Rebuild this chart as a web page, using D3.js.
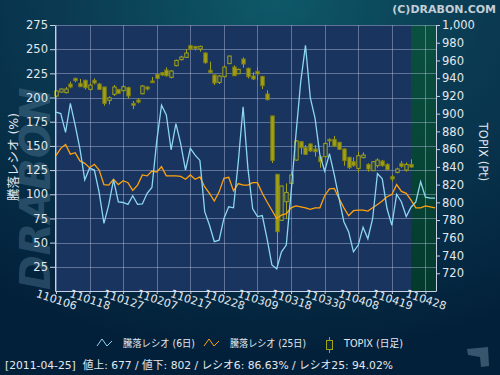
<!DOCTYPE html>
<html>
<head>
<meta charset="utf-8">
<script src="https://cdn.jsdelivr.net/npm/d3@7"></script>
<style>
  html, body { margin: 0; padding: 0; background: #05243a; }
  svg { display: block; }
  text { font-family: "DejaVu Sans", "Noto Sans CJK JP", sans-serif; }
</style>
</head>
<body>
<div id="chart"></div>
<script>
// ============================================================
//  Data
// ============================================================

// x tick labels (YYMMDD), one every 7 trading days
const xTickLabels = ['110106', '110118', '110127', '110207', '110217', '110228',
  '110309', '110318', '110330', '110408', '110419', '110428'];
const xTickDays = [0, 7, 14, 21, 28, 35, 42, 49, 56, 63, 70, 77];

const leftTicks = [25, 50, 75, 100, 125, 150, 175, 200, 225, 250, 275];
const rightTicks = [720, 740, 760, 780, 800, 820, 840, 860, 880, 900, 920, 940, 960, 980, 1000];

// TOPIX daily candles, 2011-01-06 .. 2011-04-25
const openP = [919.9, 924.4, 923.7, 933.4, 939.8, 934.2, 937.6, 927.4, 937.6, 933.4,
  930.1, 915.0, 921.8, 927.4, 925.9, 929.3, 911.6, 915.4, 922.5, 930.1,
  936.8, 944.4, 946.2, 949.2, 941.0, 954.1, 960.9, 963.5, 976.7, 975.9,
  972.9, 968.4, 948.9, 943.6, 935.3, 941.7, 956.4, 952.6, 945.1, 961.6,
  951.1, 942.5, 947.7, 942.1, 922.2, 897.4, 831.6, 779.7, 800.7, 821.4,
  847.7, 868.4, 861.6, 865.8, 860.1, 851.5, 851.5, 871.0, 871.0, 867.6,
  860.1, 850.7, 845.8, 838.3, 850.4, 842.8, 835.7, 841.3, 846.6, 842.8,
  828.9, 833.8, 843.6, 836.4, 842.8];
const highP = [926.7, 928.6, 930.1, 936.1, 940.6, 939.1, 938.3, 934.2, 939.8, 934.6,
  930.1, 919.5, 932.3, 927.4, 932.3, 930.4, 914.3, 917.3, 932.3, 930.8,
  941.3, 945.1, 946.6, 952.2, 949.2, 960.9, 965.4, 972.9, 977.4, 976.3,
  976.7, 969.2, 958.6, 944.4, 943.6, 954.1, 965.4, 954.5, 950.7, 963.5,
  951.9, 946.6, 952.6, 942.5, 926.3, 897.7, 831.6, 818.8, 821.4, 834.6,
  870.3, 869.2, 864.6, 866.5, 864.6, 853.4, 867.6, 872.2, 874.8, 868.4,
  860.9, 851.5, 850.7, 857.1, 856.4, 844.0, 846.6, 849.6, 847.7, 844.0,
  830.8, 839.1, 846.6, 845.1, 848.5];
const lowP = [918.8, 923.7, 922.9, 928.6, 935.3, 930.1, 927.4, 926.3, 933.1, 926.7,
  909.0, 910.5, 919.9, 922.5, 924.8, 917.3, 905.2, 911.6, 921.8, 926.3,
  934.6, 939.1, 942.8, 941.7, 939.8, 953.4, 960.1, 963.2, 971.8, 971.4,
  969.9, 956.4, 945.9, 932.3, 933.4, 941.0, 956.0, 942.5, 944.4, 951.9,
  939.8, 938.0, 937.6, 927.8, 915.0, 844.3, 725.5, 778.9, 781.2, 819.5,
  846.6, 854.1, 853.4, 857.1, 851.5, 839.1, 850.7, 862.8, 862.4, 859.0,
  841.3, 837.6, 840.2, 833.8, 849.6, 834.6, 835.3, 839.1, 840.2, 835.7,
  823.3, 832.7, 839.1, 834.6, 839.1];
const closeP = [925.6, 927.8, 927.8, 930.1, 937.2, 930.4, 929.3, 932.3, 934.6, 927.4,
  911.6, 918.0, 930.1, 922.9, 930.4, 919.9, 909.4, 913.1, 931.2, 927.8,
  935.0, 939.8, 943.6, 942.8, 948.1, 960.1, 963.9, 968.4, 972.9, 973.7,
  975.9, 957.5, 946.6, 934.6, 942.5, 952.6, 965.0, 942.8, 950.0, 956.0,
  941.7, 939.1, 944.7, 931.6, 915.8, 847.3, 766.9, 818.4, 811.2, 830.8,
  869.2, 861.6, 854.1, 857.9, 857.1, 845.8, 866.5, 869.2, 863.5, 859.8,
  847.0, 839.1, 841.3, 852.6, 853.4, 837.6, 845.8, 847.7, 841.3, 836.8,
  826.3, 837.6, 840.6, 842.8, 839.8];

// advance/decline ratio (%), 6-day and 25-day
const ratio6 = [185, 183.5, 164, 194, 171.5, 147, 115, 127, 125, 102,
  70, 89, 115, 92, 91.5, 89.5, 98.5, 89.5, 90, 101,
  107, 155, 192, 182, 146, 173, 152, 125, 147.5, 140.5,
  135, 82, 68, 51, 52.5, 75, 87, 86, 133.5, 190.5,
  127, 85, 77, 78, 54, 27, 23, 40.5, 47.5, 102,
  161, 216, 254, 200, 178.5, 140.5, 124, 142, 120, 95.7,
  71.6, 61, 40.5, 47.5, 66, 54, 75, 121.5, 116, 85,
  68, 100, 92, 77, 86.6, 92, 113, 97, 96, 96];
const ratio25 = [140, 147.5, 151.5, 141.5, 143, 134.5, 132, 127.5, 131, 125,
  110, 109.5, 115.5, 110, 114, 112, 104, 109.5, 120, 119,
  124, 123, 128.5, 119, 119, 119, 118.5, 115.5, 120, 115.5,
  118, 107.5, 101, 93, 102.5, 116.5, 117.5, 103.5, 111, 109.5,
  109.5, 112, 112, 101, 92, 83.5, 75, 78.5, 80, 86,
  88, 87, 86, 84.5, 86, 86, 98.5, 105.5, 106, 95.7,
  86, 77.8, 83, 83.6, 83.6, 82.6, 86, 89.5, 93, 97.4,
  99.8, 110, 103, 101, 94, 86, 86, 88, 87, 86];

const lastDay = 74; // 2011-04-25, start of the shaded zone
const legendLabels = ['騰落レシオ (6日)', '騰落レシオ (25日)', 'TOPIX (日足)'];
const footerText = '[2011-04-25]  値上: 677 / 値下: 802 / レシオ6: 86.63% / レシオ25: 94.02%';

// ============================================================
//  Layout
// ============================================================

const W = 500, H = 375;
const plot = { left: 55, right: 436, top: 25, bottom: 291 };

const svg = d3.select('#chart').append('svg').attr('width', W).attr('height', H);

const defs = svg.append('defs');
const bg = defs.append('radialGradient').attr('id', 'bg')
  .attr('cx', '55%').attr('cy', '0%').attr('r', '95%');
bg.append('stop').attr('offset', '0%').attr('stop-color', '#0e5969');
bg.append('stop').attr('offset', '45%').attr('stop-color', '#0a3a52');
bg.append('stop').attr('offset', '100%').attr('stop-color', '#03203a');

const zone = defs.append('linearGradient').attr('id', 'zone')
  .attr('x1', 0).attr('y1', 0).attr('x2', 0).attr('y2', 1);
zone.append('stop').attr('offset', '0%').attr('stop-color', '#0a5040');
zone.append('stop').attr('offset', '100%').attr('stop-color', '#043a2e');

svg.append('rect').attr('width', W).attr('height', H).attr('fill', 'url(#bg)');

// watermark
svg.append('text')
  .attr('transform', 'translate(50,290) rotate(-90)')
  .attr('font-size', 42).attr('font-weight', 'bold').attr('font-style', 'italic')
  .attr('fill', 'rgba(110,150,180,0.32)')
  .text('DRABON');

svg.append('text')
  .attr('x', 496).attr('y', 13).attr('text-anchor', 'end')
  .attr('font-size', 11).attr('font-weight', 'bold').attr('fill', '#c3ced6')
  .text('(C)DRABON.COM');

// ============================================================
//  Scales
// ============================================================

const x = d3.scaleLinear().domain([-0.2, 79.2]).range([plot.left, plot.right]);
const yL = d3.scaleLinear().domain([0, 275]).range([plot.bottom, plot.top]);
const yR = d3.scaleLinear().domain([700, 1000]).range([plot.bottom, plot.top]);

svg.append('rect')
  .attr('x', plot.left).attr('y', plot.top)
  .attr('width', plot.right - plot.left).attr('height', plot.bottom - plot.top)
  .attr('fill', '#1a3460');

svg.append('rect')
  .attr('x', x(lastDay)).attr('y', plot.top)
  .attr('width', plot.right - x(lastDay)).attr('height', plot.bottom - plot.top)
  .attr('fill', 'url(#zone)');

// grid
const grid = svg.append('g').attr('stroke', 'rgba(190,200,228,0.42)').attr('stroke-width', 1);
grid.selectAll('.h').data(leftTicks).join('line')
  .attr('x1', plot.left).attr('x2', plot.right)
  .attr('y1', d => Math.round(yL(d)) + 0.5).attr('y2', d => Math.round(yL(d)) + 0.5);
grid.selectAll('.v').data(xTickDays).join('line')
  .attr('x1', d => Math.round(x(d)) + 0.5).attr('x2', d => Math.round(x(d)) + 0.5)
  .attr('y1', plot.top).attr('y2', plot.bottom);

// ============================================================
//  Marks
// ============================================================

const olive = '#a2a218';
const candles = openP.map((o, i) => ({ i, o, h: highP[i], l: lowP[i], c: closeP[i] }));
const bw = 3.4;
const cg = svg.append('g');
cg.selectAll('.wick').data(candles).join('line')
  .attr('x1', d => Math.round(x(d.i)) + 0.5).attr('x2', d => Math.round(x(d.i)) + 0.5)
  .attr('y1', d => yR(d.h)).attr('y2', d => yR(d.l))
  .attr('stroke', olive).attr('stroke-width', 1);
cg.selectAll('.body').data(candles).join('rect')
  .attr('x', d => Math.round(x(d.i)) + 0.5 - bw / 2)
  .attr('y', d => yR(Math.max(d.o, d.c)))
  .attr('width', bw)
  .attr('height', d => Math.max(1, Math.abs(yR(d.o) - yR(d.c))))
  .attr('fill', d => d.c >= d.o ? '#1f3a5c' : olive)
  .attr('stroke', d => d.c >= d.o ? olive : '#808010')
  .attr('stroke-width', 1);

const line = v => d3.line().x((d, i) => x(i)).y(d => yL(d))(v);
svg.append('path').attr('d', line(ratio25))
  .attr('fill', 'none').attr('stroke', '#ffa20a').attr('stroke-width', 1.3);
svg.append('path').attr('d', line(ratio6))
  .attr('fill', 'none').attr('stroke', '#8cd6f0').attr('stroke-width', 1.3);

// ============================================================
//  Axes
// ============================================================

const axisColor = '#c8d0e6';
function styleAxis(g) {
  g.select('.domain').attr('stroke', axisColor);
  g.selectAll('.tick line').attr('stroke', axisColor);
  g.selectAll('.tick text').attr('fill', '#e2e8ee').attr('font-size', 11.5)
    .attr('font-family', '"DejaVu Sans", sans-serif');
}

svg.append('g').attr('transform', `translate(${plot.left},0)`)
  .call(d3.axisLeft(yL).tickValues(leftTicks).tickSize(5).tickSizeOuter(0).tickPadding(2))
  .call(styleAxis);

svg.append('g').attr('transform', `translate(${plot.right},0)`)
  .call(d3.axisRight(yR).tickValues(rightTicks).tickSize(4).tickSizeOuter(0).tickPadding(2)
    .tickFormat(d3.format(',')))
  .call(styleAxis);

const xa = svg.append('g').attr('transform', `translate(0,${plot.bottom})`)
  .call(d3.axisBottom(x).tickValues(xTickDays).tickSize(3).tickSizeOuter(0)
    .tickFormat((d, i) => xTickLabels[i]))
  .call(styleAxis);
xa.selectAll('.tick text')
  .attr('y', 0).attr('dy', 0).attr('font-size', 11)
  .attr('text-anchor', 'middle')
  .attr('dominant-baseline', 'central')
  .attr('transform', 'translate(0,9) rotate(18)');

svg.append('text')
  .attr('transform', `translate(18,157) rotate(-90)`)
  .attr('text-anchor', 'middle').attr('font-size', 12.5).attr('fill', '#e2e8ee')
  .text('騰落レシオ (%)');

svg.append('text')
  .attr('transform', `translate(479,152) rotate(90)`)
  .attr('text-anchor', 'middle').attr('font-size', 11.5).attr('fill', '#e2e8ee')
  .text('TOPIX (Pt)');

// ============================================================
//  Legend & footer
// ============================================================

const lg = svg.append('g').attr('font-size', 10).attr('fill', '#e2e8ee');
const zig = 'M0,8 L5,1 L10,8 L15,3';
const legendWidths = [72, 76, 59];
lg.append('path').attr('transform', 'translate(97,338)').attr('d', zig)
  .attr('fill', 'none').attr('stroke', '#8cd6f0').attr('stroke-width', 1);
lg.append('text').attr('x', 123).attr('y', 347)
  .attr('textLength', legendWidths[0]).attr('lengthAdjust', 'spacingAndGlyphs')
  .text(legendLabels[0]);
lg.append('path').attr('transform', 'translate(204,338)').attr('d', zig)
  .attr('fill', 'none').attr('stroke', '#ffa20a').attr('stroke-width', 1);
lg.append('text').attr('x', 230).attr('y', 347)
  .attr('textLength', legendWidths[1]).attr('lengthAdjust', 'spacingAndGlyphs')
  .text(legendLabels[1]);
lg.append('line').attr('x1', 329.5).attr('x2', 329.5).attr('y1', 337).attr('y2', 353)
  .attr('stroke', olive);
lg.append('rect').attr('x', 326.5).attr('y', 340.5).attr('width', 6).attr('height', 9)
  .attr('fill', '#0a2a40').attr('stroke', olive);
lg.append('text').attr('x', 344).attr('y', 347)
  .attr('textLength', legendWidths[2]).attr('lengthAdjust', 'spacingAndGlyphs')
  .text(legendLabels[2]);

svg.append('text').attr('x', 5).attr('y', 369)
  .attr('font-size', 11).attr('fill', '#e2e8ee')
  .attr('xml:space', 'preserve')
  .attr('textLength', 388).attr('lengthAdjust', 'spacingAndGlyphs')
  .text(footerText);

// small logo, bottom right
svg.append('path')
  .attr('d', 'M467,349 L488,347 L489,366 L481,367 L480,357 L468,355 Z')
  .attr('fill', 'rgba(120,150,170,0.45)');
</script>
</body>
</html>
